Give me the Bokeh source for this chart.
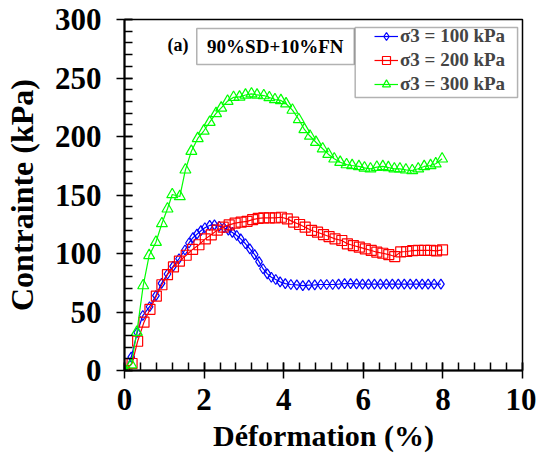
from bokeh.plotting import figure
from bokeh.models import (Range1d, SingleIntervalTicker, Legend, LegendItem,
                          BoxAnnotation, Label)
from bokeh.embed import file_html
from bokeh.resources import INLINE

# ---------------- data ----------------
x_100 = [0.00, 0.17, 0.32, 0.46, 0.63, 0.79, 0.93, 1.08, 1.22, 1.37, 1.52, 1.62, 1.72,
         1.82, 1.92, 2.02, 2.14, 2.26, 2.38, 2.50, 2.61, 2.71, 2.82, 2.92, 3.04, 3.15,
         3.27, 3.38, 3.48, 3.59, 3.69, 3.80, 3.91, 4.04, 4.18, 4.33, 4.48, 4.63, 4.78,
         4.93, 5.08, 5.23, 5.38, 5.53, 5.68, 5.83, 5.98, 6.13, 6.28, 6.43, 6.58, 6.73,
         6.88, 7.03, 7.18, 7.33, 7.48, 7.63, 7.78, 7.95]
y_100 = [0.0, 11.5, 32.5, 47.0, 54.5, 64.0, 74.5, 82.5, 89.0, 95.5, 103.0, 109.0, 113.5,
         116.5, 119.5, 122.0, 124.0, 124.5, 123.3, 122.0, 120.0, 118.0, 115.4, 112.5, 108.3, 104.0,
         99.0, 93.0, 87.0, 82.6, 79.7, 77.8, 75.8, 74.2, 73.5, 73.2, 72.6, 73.0, 73.2,
         73.5, 73.5, 73.5, 73.8, 74.2, 74.2, 74.0, 73.8, 73.8, 73.8, 73.8, 73.8, 73.8,
         73.8, 73.8, 73.8, 73.8, 73.8, 73.8, 73.8, 73.8]

x_200 = [0.00, 0.19, 0.33, 0.49, 0.64, 0.80, 0.94, 1.08, 1.23, 1.38, 1.55, 1.71, 1.87,
         2.03, 2.18, 2.33, 2.48, 2.63, 2.78, 2.93, 3.08, 3.22, 3.36, 3.50, 3.64, 3.79,
         3.94, 4.09, 4.25, 4.40, 4.54, 4.70, 4.85, 5.00, 5.14, 5.29, 5.46, 5.60, 5.75,
         5.90, 6.05, 6.20, 6.34, 6.49, 6.64, 6.79, 6.94, 7.09, 7.24, 7.38, 7.54, 7.69,
         7.84, 7.99]
y_200 = [0.0, 6.0, 25.0, 41.3, 52.3, 63.6, 73.3, 81.9, 88.5, 93.5, 98.5, 103.5, 107.5,
         112.5, 116.0, 120.0, 122.5, 124.5, 126.0, 126.8, 127.5, 129.0, 130.0, 130.5, 130.5, 130.5,
         131.0, 129.6, 126.8, 124.8, 122.5, 119.7, 118.2, 116.2, 114.5, 112.5, 111.1, 108.3, 106.8,
         105.4, 104.0, 102.6, 101.1, 100.2, 99.1, 97.4, 101.4, 101.7, 102.4, 102.6, 102.6, 102.6,
         102.2, 103.1]

x_300 = [0.00, 0.17, 0.31, 0.47, 0.62, 0.79, 0.94, 1.08, 1.20, 1.39, 1.53, 1.68, 1.84,
         1.99, 2.14, 2.30, 2.43, 2.59, 2.74, 2.89, 3.04, 3.19, 3.33, 3.50, 3.64, 3.78,
         3.93, 4.06, 4.22, 4.38, 4.52, 4.66, 4.81, 4.98, 5.12, 5.27, 5.42, 5.58, 5.72,
         5.89, 6.03, 6.18, 6.34, 6.49, 6.63, 6.78, 6.92, 7.07, 7.23, 7.38, 7.53, 7.69,
         7.82, 7.98]
y_300 = [0.0, 5.0, 32.7, 72.6, 98.3, 109.7, 125.6, 138.2, 150.4, 148.7, 171.5, 187.4, 198.3,
         204.7, 212.2, 219.7, 224.4, 230.2, 233.5, 233.8, 235.5, 236.5, 235.5, 235.0, 233.3, 231.6,
         230.8, 228.0, 222.6, 214.5, 206.0, 200.4, 195.1, 189.5, 184.9, 180.9, 178.0, 176.0, 175.2,
         174.4, 173.2, 172.4, 173.8, 174.4, 173.5, 172.4, 172.4, 171.5, 170.9, 172.4, 174.4, 175.2,
         176.7, 180.9]

series_labels = ["σ3 = 100 kPa", "σ3 = 200 kPa", "σ3 = 300 kPa"]
x_ticks_interval = 2
y_ticks_interval = 50
x_label = "Déformation (%)"
y_label = "Contrainte (kPa)"
sample_label = "90%SD+10%FN"
panel_label = "(a)"

FONT = "Liberation Serif"

p = figure(width=536, height=459, output_backend="svg", toolbar_location=None,
           x_range=Range1d(0, 10), y_range=Range1d(0, 300),
           min_border_left=120, min_border_right=14, min_border_top=19,
           min_border_bottom=89)
p.background_fill_color = "white"
p.border_fill_color = "white"
p.outline_line_color = "black"
p.outline_line_width = 1.5
p.xgrid.visible = False
p.ygrid.visible = False

p.xaxis.ticker = SingleIntervalTicker(interval=x_ticks_interval, num_minor_ticks=5)
p.yaxis.ticker = SingleIntervalTicker(interval=y_ticks_interval, num_minor_ticks=5)

for ax in (p.xaxis, p.yaxis):
    ax.axis_line_color = "black"
    ax.axis_line_width = 2
    ax.major_tick_line_color = "black"
    ax.major_tick_line_width = 1.5
    ax.minor_tick_line_color = "black"
    ax.minor_tick_line_width = 1.5
    ax.major_tick_in = 8
    ax.major_tick_out = 8
    ax.minor_tick_in = 8
    ax.minor_tick_out = 0
    ax.major_label_text_font = FONT
    ax.major_label_text_font_style = "bold"
    ax.major_label_text_font_size = "31px"
    ax.major_label_text_color = "black"
    ax.axis_label_text_font = FONT
    ax.axis_label_text_font_style = "bold"
    ax.axis_label_text_color = "black"

p.xaxis.axis_label_text_font_size = "30px"
p.yaxis.axis_label_text_font_size = "32px"
p.xaxis.axis_label = x_label
p.yaxis.axis_label = y_label
p.xaxis.major_label_standoff = 10
p.yaxis.major_label_standoff = 15
p.xaxis.axis_label_standoff = 6
p.yaxis.axis_label_standoff = 12

colors = ["#0000ff", "#ff0000", "#00ff00"]
markers = ["diamond", "square", "triangle"]
sizes = [10, 10, 11]
data = [(x_100, y_100), (x_200, y_200), (x_300, y_300)]

items = []
for (xs, ys), c, m, s, lab in zip(data, colors, markers, sizes, series_labels):
    r1 = p.line(xs, ys, line_color=c, line_width=1.2)
    r2 = p.scatter(xs, ys, marker=m, size=s, line_color=c, fill_alpha=0, line_width=1.2)
    items.append(LegendItem(label=lab, renderers=[r1, r2]))

legend = Legend(items=items, location=(250, 275), padding=0, spacing=2,
                glyph_width=24, glyph_height=20, label_height=20, label_standoff=2,
                label_text_font=FONT, label_text_font_style="bold",
                label_text_font_size="19px", border_line_alpha=0,
                background_fill_alpha=0, margin=0)
p.add_layout(legend)

p.add_layout(BoxAnnotation(left=5.796, right=9.876, bottom=233.3, top=293.2,
                           fill_alpha=0, line_color="black", line_width=1.5))
p.add_layout(BoxAnnotation(left=1.816, right=5.771, bottom=261.5, top=292.3,
                           fill_alpha=0, line_color="black", line_width=1.5))
p.add_layout(Label(x=3.79, y=276.9, text=sample_label, text_align="center",
                   text_baseline="middle", text_font=FONT, text_font_style="bold",
                   text_font_size="19px", text_color="black"))
p.add_layout(Label(x=1.343, y=278.6, text=panel_label, text_align="center",
                   text_baseline="middle", text_font=FONT, text_font_style="bold",
                   text_font_size="18px", text_color="black"))

open("out.html", "w").write(file_html(p, INLINE))
